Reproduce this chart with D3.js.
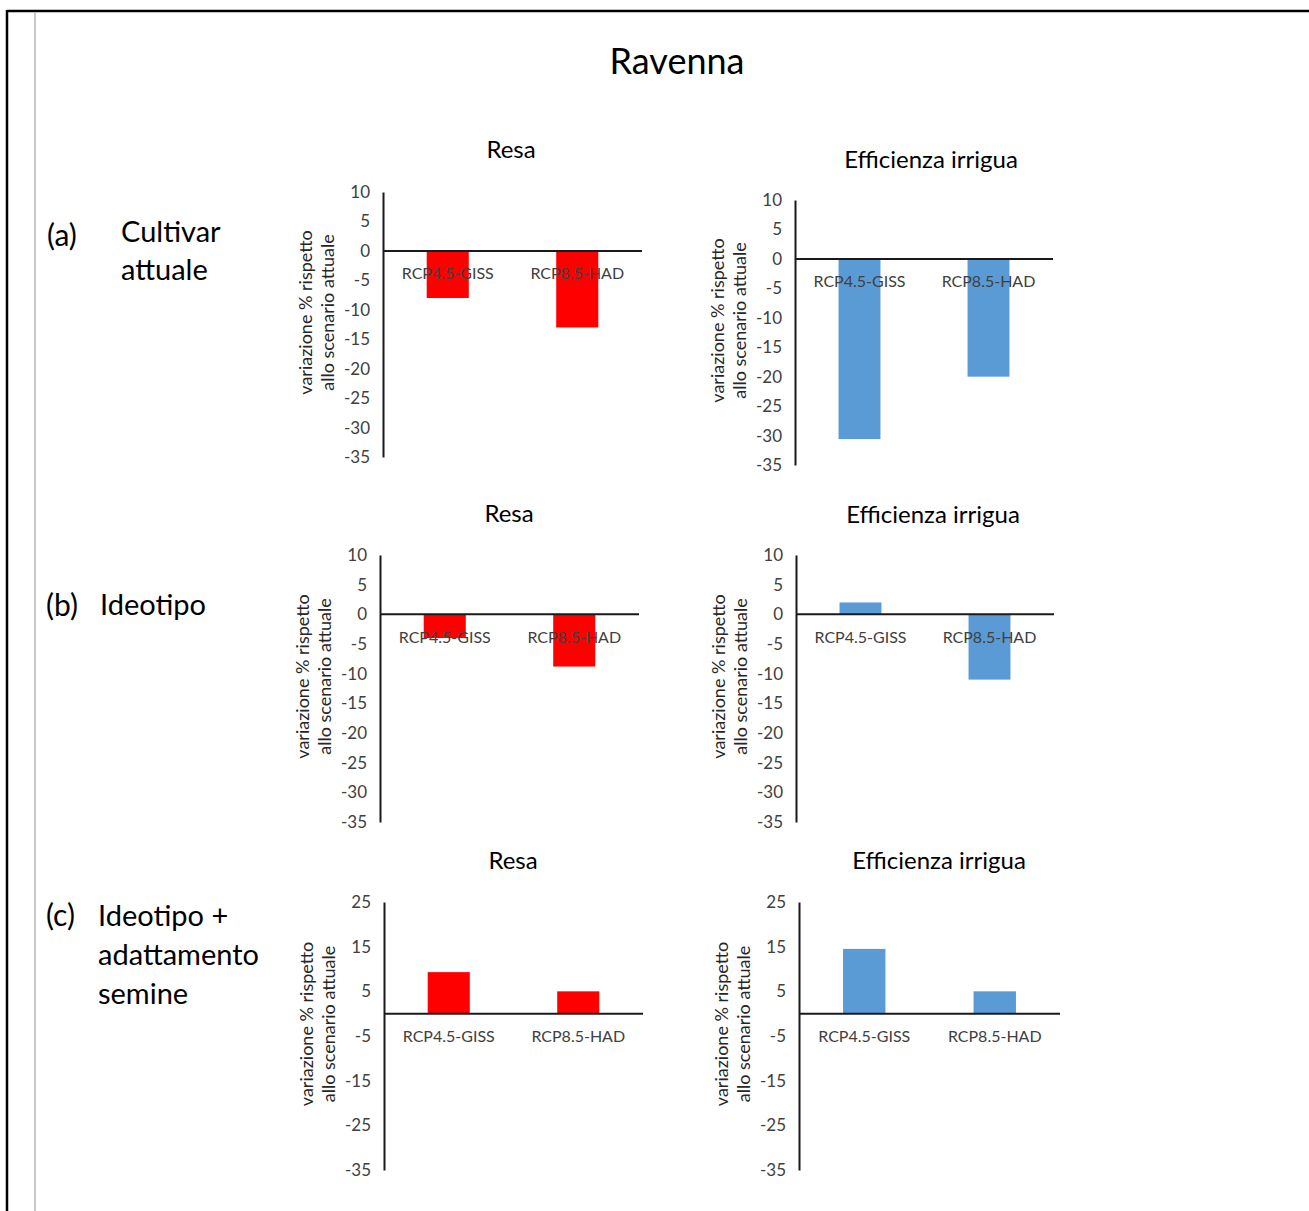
<!DOCTYPE html>
<html><head><meta charset="utf-8">
<script src="https://cdn.jsdelivr.net/npm/d3@7"></script>
<style>
html,body{margin:0;padding:0;background:#fff;}
svg{display:block;}
text{font-family:Lato,"Open Sans",sans-serif;}
</style></head>
<body>
<script>
// ---------- data ----------
const mainTitle = "Ravenna";
const categories = ["RCP4.5-GISS", "RCP8.5-HAD"];
const panelTitles = ["Resa", "Efficienza irrigua"];
const yAxisLines = ["variazione % rispetto", "allo scenario attuale"];
const rowTags = ["(a)", "(b)", "(c)"];
const rowNames = [["Cultivar", "attuale"], ["Ideotipo"], ["Ideotipo +", "adattamento", "semine"]];

const resaCultivar = [-8, -13];
const effCultivar = [-30.6, -20];
const resaIdeotipo = [-4, -8.8];
const effIdeotipo = [2, -11];
const resaAdattamento = [9.3, 5];
const effAdattamento = [14.5, 5];

const ticksAB = [10, 5, 0, -5, -10, -15, -20, -25, -30, -35];
const ticksC = [25, 15, 5, -5, -15, -25, -35];
const domainAB = [-35, 10];
const domainC = [-35, 25];

const RED = "#FF0000", BLUE = "#5B9BD5";

// ---------- layout ----------
const W = 1309, H = 1211;
const svg = d3.select("body").append("svg").attr("width", W).attr("height", H);

// frame
svg.append("line").attr("x1", 7).attr("y1", 11).attr("x2", W).attr("y2", 11).attr("stroke", "#000").attr("stroke-width", 2.5);
svg.append("line").attr("x1", 7).attr("y1", 10).attr("x2", 7).attr("y2", H).attr("stroke", "#000").attr("stroke-width", 2.5);
svg.append("line").attr("x1", 35).attr("y1", 13).attr("x2", 35).attr("y2", H).attr("stroke", "#c8c8c8").attr("stroke-width", 2);

svg.append("text").attr("x", 677).attr("y", 61).attr("dy", "0.35em").attr("text-anchor", "middle")
  .attr("font-size", 36).attr("fill", "#000").text(mainTitle);

const panels = [
  {vals: resaCultivar, color: RED, title: panelTitles[0], ty: 150, tx: 511, x0: 383, x1: 642, yT: 192, yB: 457, dom: domainAB, ticks: ticksAB},
  {vals: effCultivar, color: BLUE, title: panelTitles[1], ty: 160, tx: 931, x0: 795, x1: 1053, yT: 200, yB: 465, dom: domainAB, ticks: ticksAB},
  {vals: resaIdeotipo, color: RED, title: panelTitles[0], ty: 514, tx: 509, x0: 380, x1: 639, yT: 555, yB: 822, dom: domainAB, ticks: ticksAB},
  {vals: effIdeotipo, color: BLUE, title: panelTitles[1], ty: 515, tx: 933, x0: 796, x1: 1054, yT: 555, yB: 822, dom: domainAB, ticks: ticksAB},
  {vals: resaAdattamento, color: RED, title: panelTitles[0], ty: 861, tx: 513, x0: 384, x1: 643, yT: 902, yB: 1170, dom: domainC, ticks: ticksC},
  {vals: effAdattamento, color: BLUE, title: panelTitles[1], ty: 861, tx: 939, x0: 799, x1: 1060, yT: 902, yB: 1170, dom: domainC, ticks: ticksC}
];

panels.forEach(p => {
  const g = svg.append("g");
  const x = d3.scaleBand().domain(categories).range([p.x0, p.x1]).paddingInner(0.675).paddingOuter(0.3375);
  const y = d3.scaleLinear().domain(p.dom).range([p.yB, p.yT]);
  const data = categories.map((c, i) => ({c, v: p.vals[i]}));

  g.selectAll("rect").data(data).enter().append("rect")
    .attr("x", d => x(d.c)).attr("width", x.bandwidth())
    .attr("y", d => y(Math.max(0, d.v))).attr("height", d => Math.abs(y(d.v) - y(0)))
    .attr("fill", p.color);

  const ya = g.append("g").attr("transform", `translate(${p.x0},0)`)
    .call(d3.axisLeft(y).tickValues(p.ticks).tickSize(0).tickPadding(13).tickFormat(d => String(d)));
  ya.select(".domain").attr("stroke", "#1a1a1a").attr("stroke-width", 2);
  ya.selectAll("text").attr("font-size", 17).attr("fill", "#404040").style("font-family", "Lato,sans-serif");

  const xa = g.append("g").attr("transform", `translate(0,${y(0)})`)
    .call(d3.axisBottom(x).tickSize(0).tickSizeOuter(0).tickPadding(17));
  xa.select(".domain").attr("stroke", "#1a1a1a").attr("stroke-width", 2)
    .attr("d", `M${p.x0},0H${p.x1}`);
  xa.selectAll("text").attr("font-size", 16).attr("fill", "#404040").style("font-family", "Lato,sans-serif");

  g.append("text").attr("x", p.tx).attr("y", p.ty).attr("dy", "0.35em").attr("text-anchor", "middle")
    .attr("font-size", 24).attr("fill", "#000").text(p.title);

  const cy = (p.yT + p.yB) / 2 - 12;
  yAxisLines.forEach((t, i) => {
    g.append("text")
      .attr("transform", `translate(${p.x0 - 77 + i * 22},${cy}) rotate(-90)`)
      .attr("dy", "0.35em").attr("text-anchor", "middle")
      .attr("font-size", 18).attr("fill", "#262626").text(t);
  });
});

// row labels
const rowLayout = [
  {tagX: 47, nameX: 121, ys: [232, 270], tagY: 235},
  {tagX: 46, nameX: 100, ys: [605], tagY: 605},
  {tagX: 46, nameX: 98, ys: [916, 955, 994], tagY: 915}
];
rowLayout.forEach((r, i) => {
  svg.append("text").attr("x", r.tagX).attr("y", r.tagY).attr("dy", "0.35em")
    .attr("font-size", 30).attr("fill", "#000").text(rowTags[i]);
  rowNames[i].forEach((t, j) => {
    svg.append("text").attr("x", r.nameX).attr("y", r.ys[j]).attr("dy", "0.35em")
      .attr("font-size", 29).attr("fill", "#000").text(t);
  });
});
</script>
</body></html>
